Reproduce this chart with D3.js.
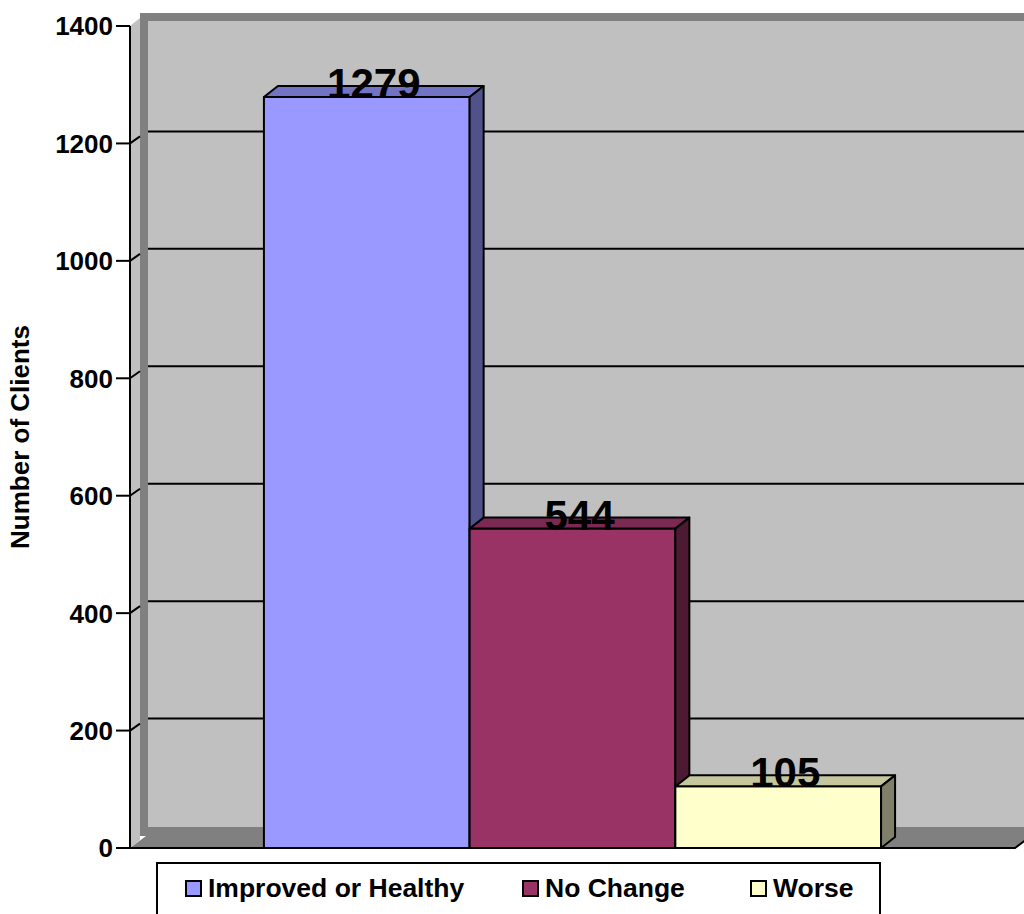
<!DOCTYPE html>
<html>
<head>
<meta charset="utf-8">
<script src="https://cdn.jsdelivr.net/npm/d3@7/dist/d3.min.js"></script>
<style>
  body { margin: 0; background: #fff; }
  svg { display: block; font-family: Arial, 'Liberation Sans', sans-serif; font-weight: bold; }
</style>
</head>
<body>
<svg width="1024" height="914"></svg>
<script>
// data
const series = ['Improved or Healthy', 'No Change', 'Worse'];
const values = [1279, 544, 105];
const yTicks = [0, 200, 400, 600, 800, 1000, 1200, 1400];
const frontColors = ['#9999ff', '#993366', '#ffffcc'];
const topColors = ['#7373c4', '#7a2952', '#c6c69e'];
const sideColors = ['#52528a', '#4d1a33', '#80806a'];

const svg = d3.select('svg');

const plotLeft = 130, plotRight = 1015, plotTop = 26, plotBottom = 848;
const wallDx = 16, wallDy = -12;
const barDx = 14, barDy = -11;

const y = d3.scaleLinear().domain([0, 1400]).range([plotBottom, plotTop]);
const xCat = d3.scaleBand().domain(['']).range([plotLeft, plotRight]).paddingOuter(0.217);
const x = d3.scaleBand().domain(series).range([xCat(''), xCat('') + xCat.bandwidth()]);

const pts = a => a.map(p => p.join(',')).join(' ');

// back wall (with thickness)
svg.append('rect')
  .attr('x', plotLeft + 10).attr('y', plotTop + wallDy - 1)
  .attr('width', 1100).attr('height', plotBottom - plotTop + 1)
  .attr('fill', '#808080');
svg.append('rect')
  .attr('x', plotLeft + wallDx + 2).attr('y', plotTop + wallDy + 7)
  .attr('width', 1100).attr('height', plotBottom - plotTop - 16)
  .attr('fill', '#c0c0c0');

// side wall
svg.append('polygon')
  .attr('points', pts([[plotLeft, plotTop], [plotLeft + 10, plotTop - 8], [plotLeft + 10, plotBottom - 8], [plotLeft, plotBottom]]))
  .attr('fill', '#c0c0c0');

// gridlines on back wall + side wall
yTicks.filter(d => d > 0 && d < 1400).forEach(d => {
  svg.append('line')
    .attr('x1', plotLeft + wallDx + 2).attr('x2', 1100)
    .attr('y1', y(d) + wallDy).attr('y2', y(d) + wallDy)
    .attr('stroke', '#000').attr('stroke-width', 2);
  svg.append('line')
    .attr('x1', plotLeft).attr('y1', y(d))
    .attr('x2', plotLeft + 10).attr('y2', y(d) - 7)
    .attr('stroke', '#000').attr('stroke-width', 2);
});

// floor
svg.append('polygon')
  .attr('points', pts([[plotLeft, plotBottom], [plotRight, plotBottom], [plotRight + wallDx, plotBottom + wallDy], [plotLeft + wallDx, plotBottom + wallDy]]))
  .attr('fill', '#808080');
svg.append('polyline')
  .attr('points', pts([[plotLeft, plotBottom], [plotRight, plotBottom], [plotRight + wallDx, plotBottom + wallDy]]))
  .attr('fill', 'none').attr('stroke', '#000').attr('stroke-width', 2);

// y axis
svg.append('line')
  .attr('x1', plotLeft).attr('x2', plotLeft)
  .attr('y1', y(1400)).attr('y2', y(0))
  .attr('stroke', '#000').attr('stroke-width', 2);
const tick = svg.selectAll('.tick').data(yTicks).enter().append('g').attr('class', 'tick');
tick.append('line')
  .attr('x1', plotLeft - 14).attr('x2', plotLeft)
  .attr('y1', d => y(d)).attr('y2', d => y(d))
  .attr('stroke', '#000').attr('stroke-width', 2);
tick.append('text')
  .attr('x', plotLeft - 17).attr('y', d => y(d)).attr('dy', '0.36em')
  .attr('text-anchor', 'end').attr('font-size', 26)
  .text(d => d);

svg.append('text')
  .attr('transform', 'translate(29,437) rotate(-90)')
  .attr('text-anchor', 'middle').attr('font-size', 26)
  .text('Number of Clients');

// bars
const bars = svg.selectAll('.bar').data(values).enter().append('g').attr('class', 'bar');
bars.each(function(v, i) {
  const g = d3.select(this);
  const x0 = x(series[i]), x1 = x0 + x.bandwidth();
  const y0 = y(0), y1 = y(v);
  g.append('polygon')
    .attr('points', pts([[x0, y1], [x1, y1], [x1, y0], [x0, y0]]))
    .attr('fill', frontColors[i]).attr('stroke', '#000').attr('stroke-width', 2).attr('stroke-linejoin', 'round');
  g.append('polygon')
    .attr('points', pts([[x0, y1], [x0 + barDx, y1 + barDy], [x1 + barDx, y1 + barDy], [x1, y1]]))
    .attr('fill', topColors[i]).attr('stroke', '#000').attr('stroke-width', 2).attr('stroke-linejoin', 'round');
  g.append('polygon')
    .attr('points', pts([[x1, y1], [x1 + barDx, y1 + barDy], [x1 + barDx, y0 + barDy], [x1, y0]]))
    .attr('fill', sideColors[i]).attr('stroke', '#000').attr('stroke-width', 2).attr('stroke-linejoin', 'round');
});

// value labels
svg.selectAll('.label').data(values).enter().append('text')
  .attr('class', 'label')
  .attr('x', (d, i) => x(series[i]) + x.bandwidth() / 2 + barDx / 2)
  .attr('y', d => y(d) + 1)
  .attr('text-anchor', 'middle').attr('font-size', 42)
  .text(d => d);

// legend
svg.append('rect')
  .attr('x', 157).attr('y', 863).attr('width', 723).attr('height', 80)
  .attr('fill', '#fff').attr('stroke', '#000').attr('stroke-width', 2);
const legendX = [186, 523, 751];
const item = svg.selectAll('.legend').data(series).enter().append('g')
  .attr('class', 'legend')
  .attr('transform', (d, i) => `translate(${legendX[i]},881)`);
item.append('rect')
  .attr('width', 15).attr('height', 15)
  .attr('fill', (d, i) => frontColors[i]).attr('stroke', '#000').attr('stroke-width', 2);
item.append('text')
  .attr('x', 22).attr('y', 16).attr('font-size', 26.5)
  .text(d => d);
</script>
</body>
</html>
